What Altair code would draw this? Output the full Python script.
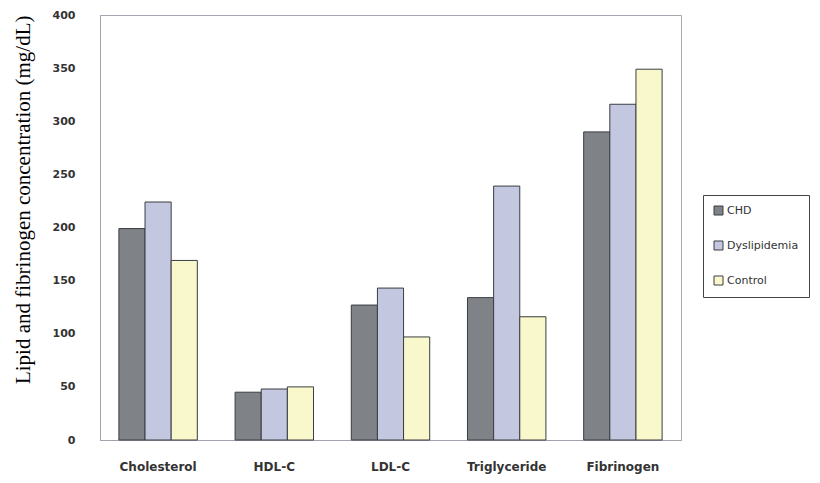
import altair as alt
import pandas as pd

categories = ["Cholesterol", "HDL-C", "LDL-C", "Triglyceride", "Fibrinogen"]
groups = ["CHD", "Dyslipidemia", "Control"]
chd = [199, 45, 127, 134, 290]
dyslipidemia = [224, 48, 143, 239, 316]
control = [169, 50, 97, 116, 349]
colors = ["#7f8387", "#c3c7e0", "#f9f7cc"]
y_ticks = [0, 50, 100, 150, 200, 250, 300, 350, 400]

rows = []
for i, c in enumerate(categories):
    for g, vals in zip(groups, [chd, dyslipidemia, control]):
        rows.append({"category": c, "group": g, "value": vals[i]})
df = pd.DataFrame(rows)

chart = alt.Chart(df).mark_bar(stroke="#3a3d40", strokeWidth=1).encode(
    x=alt.X("category:N", sort=categories, title=None,
            scale=alt.Scale(paddingInner=0.325, paddingOuter=0.1625),
            axis=alt.Axis(labelAngle=0, ticks=False, labelPadding=21,
                          domainColor="#9fa3ab", labelFont="DejaVu Sans",
                          labelFontSize=12, labelFontWeight="bold", labelColor="#333")),
    xOffset=alt.XOffset("group:N", sort=groups,
                        scale=alt.Scale(paddingInner=0, paddingOuter=0)),
    y=alt.Y("value:Q", title="Lipid and fibrinogen concentration (mg/dL)",
            scale=alt.Scale(domain=[0, 400], nice=False),
            axis=alt.Axis(values=y_ticks, ticks=False, grid=False, labelPadding=25,
                          domainColor="#9fa3ab", labelFont="DejaVu Sans",
                          labelFontSize=11, labelFontWeight="bold", labelColor="#333",
                          titleFont="Liberation Serif", titleFontSize=21,
                          titleFontWeight="normal", titleColor="#000",
                          titleAnchor="end", titlePadding=19)),
    color=alt.Color("group:N", sort=groups, title=None,
                    scale=alt.Scale(domain=groups, range=colors),
                    legend=alt.Legend(orient="none", legendX=603, legendY=180,
                                      symbolType="square", symbolSize=81,
                                      symbolStrokeColor="#3a3d40", symbolStrokeWidth=1,
                                      labelFont="DejaVu Sans", labelFontSize=11,
                                      labelColor="#333", rowPadding=22, padding=10,
                                      strokeColor="#444", labelOffset=3)),
).properties(
    width=581, height=425,
    padding={"left": 4, "top": 1, "right": 0, "bottom": 3},
).configure_view(
    stroke="#a5a8b0", strokeWidth=1
)

chart.save("out.html", embed_options={"renderer": "svg", "actions": False})
